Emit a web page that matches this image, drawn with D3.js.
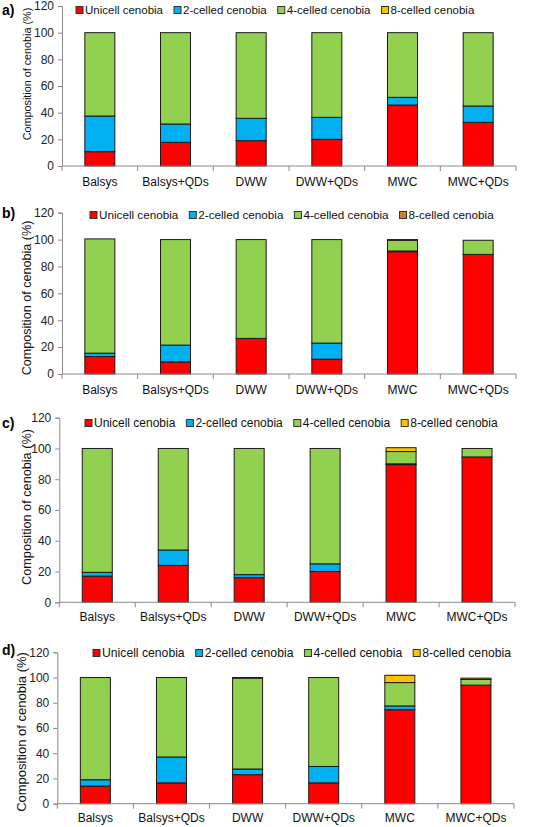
<!DOCTYPE html>
<html>
<head>
<meta charset="utf-8">
<script src="https://cdn.jsdelivr.net/npm/d3@7"></script>
<style>
  html, body { margin: 0; padding: 0; background: #fff; }
  svg { display: block; font-family: "Liberation Sans", Arial, sans-serif; }
</style>
</head>
<body>
<svg id="chart" width="551" height="827"></svg>
<script>
// ---------- DATA ----------
const categories = ["Balsys", "Balsys+QDs", "DWW", "DWW+QDs", "MWC", "MWC+QDs"];
const seriesNames = ["Unicell cenobia", "2-celled cenobia", "4-celled cenobia", "8-celled cenobia"];
const yTickValues = [0, 20, 40, 60, 80, 100, 120];
const panelLabels = ["a)", "b)", "c)", "d)"];
const yAxisTitle = "Composition of cenobia (%)";

const a_unicell = [10.75, 17.75, 19, 20, 45.75, 32.75];
const a_two     = [26.75, 13.75, 16.75, 16.5, 5.75, 12.25];
const a_four    = [62.5, 68.5, 64.25, 63.5, 48.5, 55];
const a_eight   = [0, 0, 0, 0, 0, 0];

const b_unicell = [13, 9, 26.5, 11, 91, 89];
const b_two     = [2.5, 12.5, 0, 12, 0.5, 0];
const b_four    = [85, 78.5, 73.5, 77, 8, 10.5];
const b_eight   = [0, 0, 0, 0, 0.5, 0];

const c_unicell = [17, 24, 16, 20, 89.5, 94.5];
const c_two     = [2.5, 10, 2, 5, 0.5, 0];
const c_four    = [80.5, 66, 82, 75, 8, 5.5];
const c_eight   = [0, 0, 0, 0, 2.5, 0];

const d_unicell = [14, 16.5, 23, 16.5, 74.5, 94];
const d_two     = [5, 20.5, 4.5, 13, 3, 0];
const d_four    = [81, 63, 72, 70.5, 18.5, 4.5];
const d_eight   = [0, 0, 0.5, 0, 5.8, 1];

const panelData = [
  [a_unicell, a_two, a_four, a_eight],
  [b_unicell, b_two, b_four, b_eight],
  [c_unicell, c_two, c_four, c_eight],
  [d_unicell, d_two, d_four, d_eight]
];

// ---------- STYLE / LAYOUT ----------
const colors = ["#ff0000", "#00b0f0", "#92d050", "#ffc000"];
const eightColorB = "#c8842c";
const axisColor = "#8a8a8a";

const layouts = [
  { left: 62,   right: 516, y0: 166,   y120: 6,     catY: 186, legX: 76, legY: 10,  legFont: 11.5, titleX: 27, titleY: 74,  titleFont: 10.8, labY: 15 },
  { left: 62,   right: 516, y0: 374,   y120: 212.7, catY: 394, legX: 90, legY: 215, legFont: 11.7, titleX: 27, titleY: 298, titleFont: 12.6, labY: 218 },
  { left: 59.3, right: 515, y0: 602.3, y120: 417.7, catY: 621, legX: 85, legY: 423, legFont: 12,   titleX: 27, titleY: 507, titleFont: 12.7, labY: 428 },
  { left: 57.3, right: 514, y0: 803.7, y120: 652.3, catY: 822, legX: 93, legY: 653, legFont: 12.2, titleX: 21, titleY: 732, titleFont: 13,   labY: 655 }
];

const svg = d3.select("#chart");

panelData.forEach((arrs, pi) => {
  const L = layouts[pi];
  const g = svg.append("g");

  const rows = categories.map((c, i) => {
    const r = { cat: c };
    seriesNames.forEach((s, si) => { r[s] = arrs[si][i]; });
    return r;
  });
  const stacked = d3.stack().keys(seriesNames)(rows);

  const x = d3.scaleBand().domain(categories).range([L.left, L.right]).padding(0);
  const y = d3.scaleLinear().domain([0, 120]).range([L.y0, L.y120]);
  const barW = 30;

  const seriesColor = si => (pi === 1 && si === 3) ? eightColorB : colors[si];

  // bars
  stacked.forEach((layer, si) => {
    g.append("g").selectAll("rect")
      .data(layer.filter(d => d[1] - d[0] > 0))
      .join("rect")
      .attr("x", d => x(d.data.cat) + (x.bandwidth() - barW) / 2)
      .attr("width", barW)
      .attr("y", d => y(d[1]))
      .attr("height", d => y(d[0]) - y(d[1]))
      .attr("fill", seriesColor(si))
      .attr("stroke", "#1a1a1a")
      .attr("stroke-width", 1);
  });

  // y axis
  const yAxis = d3.axisLeft(y).tickValues(yTickValues).tickSize(4).tickPadding(4);
  const ya = g.append("g").attr("transform", `translate(${L.left},0)`).call(yAxis);
  ya.select(".domain").attr("stroke", axisColor);
  ya.selectAll(".tick line").attr("stroke", axisColor);
  ya.selectAll(".tick text").attr("font-size", 12).attr("fill", "#222")
    .attr("font-family", "Liberation Sans, Arial, sans-serif");

  // x axis with ticks at category boundaries
  const xa = g.append("g");
  xa.append("line").attr("x1", L.left).attr("x2", L.right).attr("y1", L.y0).attr("y2", L.y0)
    .attr("stroke", axisColor);
  const bounds = categories.map(c => x(c)).concat([L.right]);
  xa.selectAll("line.t").data(bounds).join("line").attr("class", "t")
    .attr("x1", d => d).attr("x2", d => d).attr("y1", L.y0).attr("y2", L.y0 + 5)
    .attr("stroke", axisColor);
  xa.selectAll("text").data(categories).join("text")
    .attr("x", d => x(d) + x.bandwidth() / 2)
    .attr("y", L.catY)
    .attr("text-anchor", "middle")
    .attr("font-size", 12)
    .attr("fill", "#111")
    .text(d => d);

  // y title
  g.append("text")
    .attr("transform", `translate(${L.titleX},${L.titleY}) rotate(-90)`)
    .attr("text-anchor", "middle")
    .attr("dy", "0.35em")
    .attr("font-size", L.titleFont)
    .attr("fill", "#111")
    .text(yAxisTitle);

  // panel label
  g.append("text").attr("x", 2).attr("y", L.labY)
    .attr("font-size", 14).attr("font-weight", "bold").attr("fill", "#000")
    .text(panelLabels[pi]);

  // legend
  let lx = L.legX;
  seriesNames.forEach((s, si) => {
    g.append("rect").attr("x", lx).attr("y", L.legY - 3.5).attr("width", 7).attr("height", 7)
      .attr("fill", seriesColor(si)).attr("stroke", "#333").attr("stroke-width", 1);
    const t = g.append("text").attr("x", lx + 9).attr("y", L.legY)
      .attr("dy", "0.35em").attr("font-size", L.legFont).attr("fill", "#111").text(s);
    lx += 9 + t.node().getComputedTextLength() + 11;
  });
});
</script>
</body>
</html>
